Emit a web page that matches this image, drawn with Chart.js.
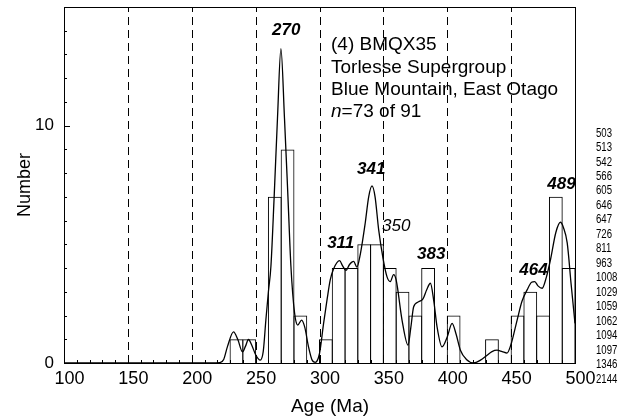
<!DOCTYPE html>
<html><head><meta charset="utf-8">
<script src="https://cdn.jsdelivr.net/npm/chart.js@4.4.1/dist/chart.umd.min.js"></script>
<style>html,body{margin:0;padding:0;background:#fff;}#wrap{width:633px;height:416px;position:relative;}</style>
</head><body><div id="wrap"><canvas id="c" width="633" height="416"></canvas></div>
<script>
// ---- data ----
const binStarts = [230,240,250,260,270,280,290,300,310,320,330,340,350,360,370,380,390,400,410,420,430,440,450,460,470,480,490];
const binCounts = [1,1,0,7,9,2,0,1,4,4,5,5,4,3,2,4,0,2,0,0,1,0,2,3,2,7,4];
const binWidth = 10;
const curveAges = [100,215,222,225,228,232.7,236,239.7,242,244.4,247,250,253.6,256,258,260,262,264.5,267.1,269.8,272.6,275.3,277.6,280.5,283,286,288.5,291.4,294,296.7,300,303.2,306,308.4,311,315.7,318,320.7,323.5,326.7,329.3,332,335.8,338.5,341.1,343.5,346.3,349.7,352.8,355.4,358,360,364.6,369.3,371.5,373.7,377.6,381,384,386.8,389.5,392,395.9,400,403.8,407,410.3,415,420.7,426,431.2,435,439,443,446.8,450,454.7,458.5,462.5,466,468.5,471,474.3,477.5,480.8,485,488.6,491,493.9,497,500];
const curveDensity = [0,0,0.02,0.15,0.7,1.31,1.0,0.47,0.7,0.99,0.75,0.35,0.12,0.5,1.8,3.0,4.1,7.0,10.3,13.25,10.3,7.0,4.1,2.1,1.6,1.81,1.5,0.68,0.15,0.03,0.4,1.67,2.7,3.5,3.96,4.31,4.1,3.9,4.15,4.28,4.04,4.6,5.9,7.0,7.46,7.0,5.62,4.42,3.64,3.43,3.72,3.5,1.81,0.75,1.5,2.37,2.58,2.7,3.1,3.36,2.6,1.53,0.68,1.1,1.67,1.2,0.54,0.15,0.0,0.12,0.33,0.48,0.54,0.48,0.42,0.8,1.81,2.6,3.08,3.4,3.43,3.25,3.15,3.6,4.35,5.5,5.93,5.7,5.06,3.3,1.67];
const xTickValues = [100,150,200,250,300,350,400,450,500];
const yTickLabels = [0,10];
const dashedAges = [150,200,250,300,350,400,450];
const peakLabels = ['270','311','341','350','383','464','489'];
const peakAges = [273.9,316.6,340.5,360.1,387.5,467.5,489.4];
const peakValues = [14.03,5.03,8.16,5.75,4.56,3.89,7.53];
const peakBold = [true,true,true,false,true,true,true];
const infoLines = ['(4) BMQX35','Torlesse Supergroup','Blue Mountain, East Otago','=73 of 91'];
const outsideAges = ['503','513','542','566','605','646','647','726','811','963','1008','1029','1059','1062','1094','1097','1346','2144'];
const xTitle = 'Age (Ma)';
const yTitle = 'Number';

const FONT = '"Liberation Sans", Arial, sans-serif';

const decor = {
  id: 'decor',
  beforeDatasetsDraw(chart) {
    const {ctx, chartArea: a, scales: {x}} = chart;
    ctx.save();
    ctx.strokeStyle = '#000';
    ctx.lineWidth = 1;
    ctx.setLineDash([8,5]);
    dashedAges.forEach(v => {
      const px = Math.round(x.getPixelForValue(v)) + 0.5;
      ctx.beginPath(); ctx.moveTo(px, a.bottom); ctx.lineTo(px, a.top); ctx.stroke();
    });
    ctx.restore();
  },
  afterDraw(chart) {
    const {ctx, chartArea: a, scales: {x, y}} = chart;
    ctx.save();
    ctx.strokeStyle = '#000'; ctx.lineWidth = 1;
    ctx.strokeRect(Math.round(a.left)+0.5, Math.round(a.top)+0.5, Math.round(a.right-a.left), Math.round(a.bottom-a.top));
    // minor ticks
    ctx.beginPath();
    for (let v = 100; v <= 500; v += 10) {
      const px = Math.round(x.getPixelForValue(v)) + 0.5;
      const len = (v % 50 === 0) ? 6 : 3;
      ctx.moveTo(px, a.bottom); ctx.lineTo(px, a.bottom - len);
    }
    for (let v = 0; v <= 15; v += 1) {
      const py = Math.round(y.getPixelForValue(v)) + 0.5;
      const len = (v % 10 === 0) ? 6 : 3;
      ctx.moveTo(a.left, py); ctx.lineTo(a.left + len, py);
    }
    ctx.stroke();
    // peak labels
    ctx.fillStyle = '#000';
    ctx.textAlign = 'center'; ctx.textBaseline = 'middle';
    peakLabels.forEach((t, i) => {
      ctx.font = (peakBold[i] ? 'italic bold ' : 'italic ') + '17px ' + FONT;
      ctx.fillText(t, x.getPixelForValue(peakAges[i]), y.getPixelForValue(peakValues[i]));
    });
    // info block
    ctx.textAlign = 'left';
    const ix = 331, iy0 = 45, dy = 22.3;
    ctx.font = '19px ' + FONT;
    infoLines.forEach((t, i) => {
      if (i === 3) {
        ctx.font = 'italic 19px ' + FONT;
        ctx.fillText('n', ix, iy0 + dy*i);
        const w = ctx.measureText('n').width;
        ctx.font = '19px ' + FONT;
        ctx.fillText(t, ix + w, iy0 + dy*i);
      } else ctx.fillText(t, ix, iy0 + dy*i);
    });
    // outside list (condensed)
    ctx.save();
    ctx.translate(596, 0);
    ctx.scale(0.8, 1);
    ctx.font = '12px ' + FONT;
    outsideAges.forEach((t, i) => ctx.fillText(t, 0, 133.3 + 14.47*i));
    ctx.restore();
    // axis titles
    ctx.textAlign = 'center';
    ctx.font = '19px ' + FONT;
    ctx.fillText(xTitle, 330, 406.5);
    ctx.save();
    ctx.translate(25.5, (a.top + a.bottom)/2);
    ctx.rotate(-Math.PI/2);
    ctx.font = '18px ' + FONT;
    ctx.fillText(yTitle, 0, 0);
    ctx.restore();
    ctx.restore();
  }
};

new Chart(document.getElementById('c'), {
  type: 'bar',
  data: {
    datasets: [
      {
        type: 'line',
        data: curveAges.map((a, i) => ({x: a, y: curveDensity[i]})),
        borderColor: '#000', borderWidth: 1.3, pointRadius: 0,
        cubicInterpolationMode: 'monotone', fill: false
      },
      {
        type: 'bar',
        data: binStarts.map((s, i) => ({x: s + binWidth/2, y: binCounts[i]})),
        backgroundColor: 'rgba(0,0,0,0)', borderColor: '#000', borderWidth: 1,
        barPercentage: 1.078, categoryPercentage: 1
      }
    ]
  },
  options: {
    responsive: false, animation: false, devicePixelRatio: 1,
    layout: {padding: {top: 7, right: 58, left: 0, bottom: 0}},
    plugins: {legend: {display: false}, tooltip: {enabled: false}},
    scales: {
      x: {
        type: 'linear', min: 100, max: 500, offset: false,
        afterBuildTicks: s => { s.ticks = xTickValues.map(v => ({value: v})); },
        afterFit: s => { s.height = 53; s.paddingLeft = 0; s.paddingRight = 0; },
        grid: {display: false, drawTicks: false}, border: {display: false},
        ticks: {color: '#000', font: {family: FONT, size: 18}, padding: 5, labelOffset: 5.5, autoSkip: false, maxRotation: 0}
      },
      y: {
        min: 0, max: 15,
        afterBuildTicks: s => { s.ticks = yTickLabels.map(v => ({value: v})); },
        afterFit: s => { s.width = 64; s.paddingTop = 0; s.paddingBottom = 0; },
        grid: {display: false, drawTicks: false}, border: {display: false},
        ticks: {color: '#000', font: {family: FONT, size: 17}, padding: 10, autoSkip: false}
      }
    }
  },
  plugins: [decor]
});
</script></body></html>
